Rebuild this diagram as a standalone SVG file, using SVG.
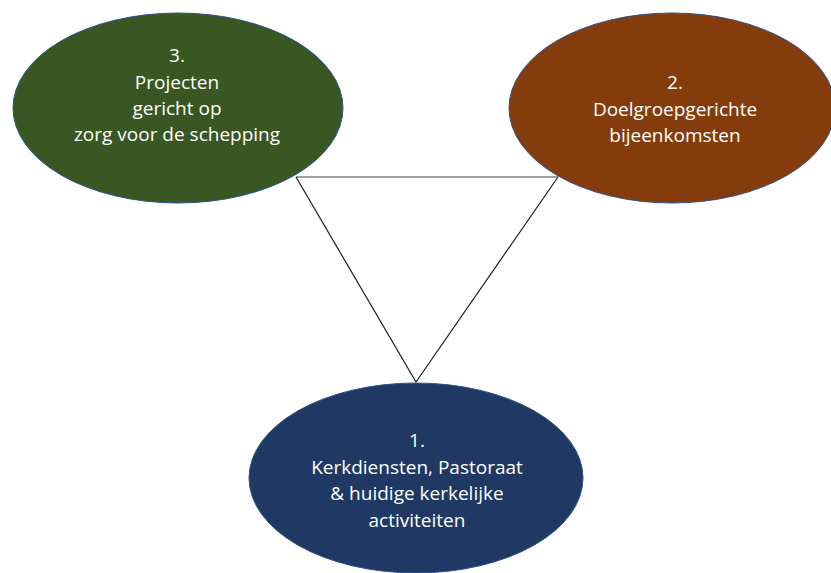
<svg xmlns="http://www.w3.org/2000/svg" width="831" height="573" viewBox="0 0 831 573">
<style>
.node ellipse{stroke:#2f528f;stroke-width:1}
.node text{font-family:"Open Sans","Liberation Sans",sans-serif;font-size:19px;fill:#ffffff;text-anchor:middle}
.edge{stroke:#1a1a1a;stroke-width:1.2;fill:none}
</style>
<rect width="831" height="573" fill="#ffffff"/>
<g id="connectors">
<line class="edge" x1="296" y1="177" x2="558" y2="177" style="stroke:#7f7f7f;stroke-width:1.6"/>
<line class="edge" x1="296" y1="177" x2="416" y2="382"/>
<line class="edge" x1="558" y1="177" x2="416" y2="382"/>
</g>
<g id="node3" class="node">
<ellipse cx="178" cy="108" rx="165" ry="95" fill="#385723"/>
<text x="177" y="62">3.</text>
<text x="177" y="89">Projecten</text>
<text x="177" y="115">gericht op</text>
<text x="177" y="141">zorg voor de schepping</text>
</g>
<g id="node2" class="node">
<ellipse cx="672" cy="108" rx="163" ry="95" fill="#843c0c"/>
<text x="675" y="89">2.</text>
<text x="675" y="116">Doelgroepgerichte</text>
<text x="675" y="142">bijeenkomsten</text>
</g>
<g id="node1" class="node">
<ellipse cx="416" cy="478" rx="167" ry="95" fill="#203864"/>
<text x="417" y="447">1.</text>
<text x="417" y="474">Kerkdiensten, Pastoraat</text>
<text x="417" y="500">&amp; huidige kerkelijke</text>
<text x="417" y="527">activiteiten</text>
</g>
</svg>
